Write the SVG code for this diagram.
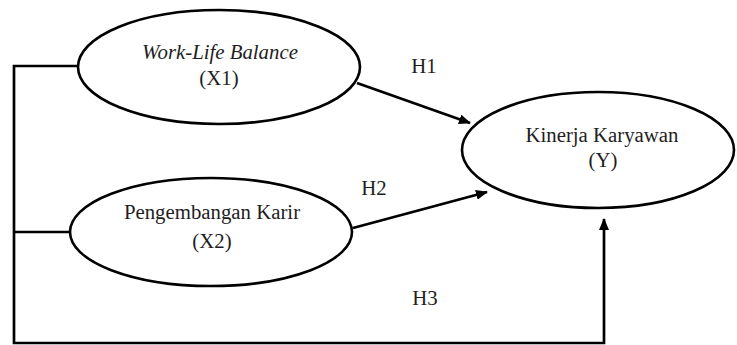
<svg xmlns="http://www.w3.org/2000/svg" width="737" height="345" viewBox="0 0 737 345">
<style>
.node ellipse{fill:#fff;stroke:#000;stroke-width:2.6}
text{font-family:"Liberation Serif","Times New Roman",serif;font-size:20.8px;fill:#1e1e1e;text-anchor:middle}
.conn{fill:none;stroke:#000;stroke-width:2.7}
</style>
<defs>
<marker id="ah" markerWidth="12" markerHeight="10" refX="11" refY="5" orient="auto" markerUnits="userSpaceOnUse">
<path d="M0,0 L12,5 L0,10 Z" fill="#000"/>
</marker>
</defs>
<rect width="737" height="345" fill="#fff"/>
<g id="connectors">
<path class="conn" d="M78,66 H14 V343 H604 V219" marker-end="url(#ah)"/>
<path class="conn" d="M14,232 H70"/>
<path class="conn" d="M357,83 L470,123" marker-end="url(#ah)"/>
<path class="conn" d="M353,228 L487,192" marker-end="url(#ah)"/>
</g>
<g id="X1" class="node">
<ellipse cx="219" cy="67" rx="141" ry="57"/>
<text x="220" y="59" font-style="italic">Work-Life Balance</text>
<text x="219" y="85">(X1)</text>
</g>
<g id="X2" class="node">
<ellipse cx="211" cy="232" rx="141" ry="54"/>
<text x="212" y="219">Pengembangan Karir</text>
<text x="212" y="248">(X2)</text>
</g>
<g id="Y" class="node">
<ellipse cx="598" cy="150" rx="136" ry="58"/>
<text x="602" y="142">Kinerja Karyawan</text>
<text x="603" y="167">(Y)</text>
</g>
<g id="labels">
<text x="424" y="73">H1</text>
<text x="374" y="195">H2</text>
<text x="425" y="305">H3</text>
</g>
</svg>
